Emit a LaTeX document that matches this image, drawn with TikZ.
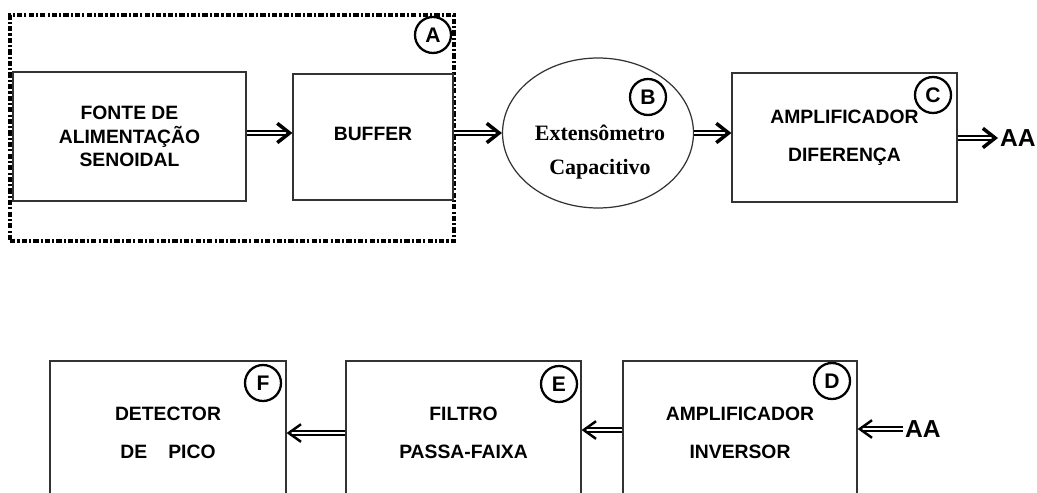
\documentclass[tikz,border=0pt]{standalone}
\usepackage{fontspec}
\setmainfont{Liberation Sans}
\newfontfamily\serifb{Liberation Serif}
\usetikzlibrary{arrows.meta,shapes.geometric}

\begin{document}
\begin{tikzpicture}[
    x=0.02cm, y=-0.02cm,
    font=\fontsize{11}{13.5}\selectfont\bfseries,
    bloco/.style={
        rectangle,
        draw=black!80,
        line width=0.7pt,
        align=center,
        inner sep=2pt
    },
    marca/.style={
        circle,
        draw,
        line width=1.3pt,
        minimum size=0.72cm,
        inner sep=0pt,
        font=\fontsize{12}{12}\selectfont\bfseries
    },
    seta/.style={
        double,
        double distance=1.3pt,
        line width=1.2pt,
        -{Straight Barb[length=7pt,width=11pt,line width=2pt]}
    },
    setafina/.style={
        double,
        double distance=1.3pt,
        line width=0.8pt,
        -{Straight Barb[length=7pt,width=10pt,line width=1.4pt]}
    },
    sinal/.style={
        font=\fontsize{14}{14}\selectfont\bfseries,
        inner sep=1pt
    }
]

\useasboundingbox (0,0) rectangle (1037,493);

% grupo A (fonte + buffer)
\node[draw, line width=2.2pt, dash pattern=on 3pt off 1.2pt on 1.2pt off 1.2pt,
      minimum width=8.88cm, minimum height=4.52cm] (grupoA) at (232,128) {};

\node[bloco, minimum width=4.66cm, minimum height=2.58cm] (fonte) at (129.5,136.5)
    {FONTE DE\\ALIMENTAÇÃO\\SENOIDAL};
\node[bloco, minimum width=3.2cm, minimum height=2.52cm] (buffer) at (373,137)
    {\raisebox{4pt}{BUFFER}};

\node[ellipse, draw=black!80, line width=0.7pt,
      minimum width=3.82cm, minimum height=3cm] (ext) at (598,133) {};
\node[font=\serifb\fontsize{12.5}{15}\selectfont\bfseries, align=center] (extlbl) at (600,152)
    {Extensômetro\\[4pt]Capacitivo};

\node[bloco, minimum width=4.5cm, minimum height=2.58cm] (difer) at (844.5,137.5)
    {AMPLIFICADOR\\[8pt]DIFERENÇA};
\node[sinal, anchor=west] (saidaAA) at (998,138) {AA};

% linha de baixo
\node[bloco, minimum width=4.72cm, minimum height=2.88cm] (detector) at (168,433)
    {DETECTOR\\[8pt]DE\hspace{12pt}PICO};
\node[bloco, minimum width=4.7cm, minimum height=2.88cm] (filtro) at (463.5,433)
    {FILTRO\\[8pt]PASSA-FAIXA};
\node[bloco, minimum width=4.68cm, minimum height=2.88cm] (inversor) at (740,433)
    {AMPLIFICADOR\\[8pt]INVERSOR};
\node[sinal, anchor=west] (entradaAA) at (903,429) {AA};

% marcas
\node[marca] (mA) at (433,35) {A};
\node[marca] (mB) at (648,97) {B};
\node[marca] (mC) at (933,95) {C};
\node[marca] (mD) at (832,381) {D};
\node[marca] (mE) at (559,384) {E};
\node[marca] (mF) at (263,383) {F};

% setas
\draw[seta] (fonte.east |- 0,133) -- (buffer.west |- 0,133);
\draw[seta] (buffer.east |- ext.west) -- (ext.west);
\draw[seta] (ext.east) -- (ext.east -| difer.west);
\draw[seta] (difer.east |- saidaAA.west) -- (saidaAA.west);

\draw[setafina] (entradaAA.west) -- (entradaAA.west -| inversor.east);
\draw[setafina] (inversor.west |- 0,430) -- (filtro.east |- 0,430);
\draw[setafina] (filtro.west) -- (detector.east);

\end{tikzpicture}
\end{document}
